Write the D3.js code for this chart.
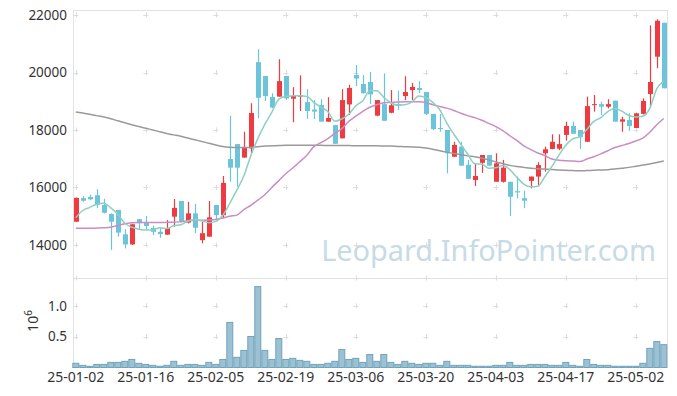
<!DOCTYPE html>
<html><head><meta charset="utf-8">
<script src="https://cdn.jsdelivr.net/npm/d3@7"></script>
<style>body{margin:0;background:#fff}svg{display:block}text{font-family:"Noto Sans","Open Sans",sans-serif}</style>
</head><body><svg id="c" width="677" height="396"></svg>
<script>
const dates=["2025-01-02","2025-01-03","2025-01-06","2025-01-07","2025-01-08","2025-01-09","2025-01-10","2025-01-13","2025-01-14","2025-01-15","2025-01-16","2025-01-17","2025-01-20","2025-01-21","2025-01-22","2025-01-23","2025-01-24","2025-01-31",
"2025-02-03","2025-02-04","2025-02-05","2025-02-06","2025-02-07","2025-02-10","2025-02-11","2025-02-12","2025-02-13","2025-02-14","2025-02-17","2025-02-18","2025-02-19","2025-02-20","2025-02-21","2025-02-24","2025-02-25","2025-02-26","2025-02-27","2025-02-28",
"2025-03-04","2025-03-05","2025-03-06","2025-03-07","2025-03-10","2025-03-11","2025-03-12","2025-03-13","2025-03-14","2025-03-17","2025-03-18","2025-03-19","2025-03-20","2025-03-21","2025-03-24","2025-03-25","2025-03-26","2025-03-27","2025-03-28","2025-03-31",
"2025-04-01","2025-04-02","2025-04-03","2025-04-04","2025-04-07","2025-04-08","2025-04-09","2025-04-10","2025-04-11","2025-04-14","2025-04-15","2025-04-16","2025-04-17","2025-04-18","2025-04-21","2025-04-22","2025-04-23","2025-04-24","2025-04-25","2025-04-28","2025-04-29","2025-04-30",
"2025-05-02","2025-05-07","2025-05-08","2025-05-09","2025-05-12"];
const open=[14810,15630,15670,15730,15390,15080,15220,14370,14020,14900,14780,14590,14460,14360,14985,15530,14780,15100,14170,14290,15390,15040,16990,17510,17040,17360,20360,19880,19150,19160,19880,19090,19160,18970,18710,18870,18290,18170,17710,18890,19910,19600,19670,18500,18900,18600,18900,19180,19390,19460,19320,18560,18070,18000,17070,17420,16790,16260,16860,17130,16200,16200,16200,15870,15630,16230,16380,17190,17340,17350,17830,18140,18000,17590,18870,18900,18810,19020,18290,18350,18070,18560,19250,20550,21730];
const high=[15650,15700,15750,15940,15610,15100,15220,14550,14740,14900,15010,14670,14590,14870,15600,15530,15500,15430,14810,15530,15390,16400,18500,17510,17940,18930,20810,19880,19280,20460,19880,19490,19900,19420,19040,19070,19140,18170,19420,19570,20260,19910,20020,19040,19970,19390,19370,19870,19640,19700,19320,18560,18560,18000,17590,17590,16960,16840,17130,17130,17190,16960,16200,16380,15890,16380,16880,17420,17850,17850,18290,18290,18000,19160,19220,18980,19070,19020,18460,18580,18600,19100,21640,21850,21730];
const low=[14800,15500,15560,15280,15100,13830,14290,13880,14000,14550,14520,14350,14250,14350,14640,14780,14750,14410,14060,14290,14870,14930,16200,16030,17037,17190,18410,19010,18760,19160,19050,18270,18660,18390,18380,18290,18290,17520,17710,18520,19530,19270,18900,18480,18320,18580,18690,19040,19040,19290,18520,18000,17940,16490,17070,16760,16290,16050,16510,16740,16200,16170,15010,15620,15280,15970,16090,16550,17330,17300,17630,17870,17340,17590,18640,18520,18750,18290,17940,17970,18070,18540,18810,20150,19450];
const close=[15640,15540,15590,15390,15120,14810,14430,14020,14720,14760,14660,14460,14380,14590,15290,14810,15100,14600,14410,14960,15040,16160,16690,16690,17410,18590,19120,19180,18780,19700,19100,19180,19210,18660,18640,18290,18420,17520,19040,19460,19790,19280,19240,19040,18320,18860,18850,19320,19500,19390,18560,18030,18045,17190,17480,16760,16300,16400,17130,16760,16840,16690,15680,15830,15540,16380,16780,17330,17590,17510,18140,17870,17750,18830,18900,18810,18900,18290,18370,18140,18580,19010,19670,21800,19450];
const volume=[0.068,0.035,0.02,0.05,0.05,0.083,0.083,0.1,0.13,0.068,0.05,0.035,0.02,0.035,0.1,0.035,0.05,0.05,0.035,0.083,0.05,0.13,0.73,0.165,0.277,0.503,1.31,0.277,0.13,0.47,0.13,0.148,0.116,0.1,0.05,0.05,0.068,0.1,0.29,0.13,0.148,0.083,0.21,0.1,0.21,0.083,0.05,0.1,0.068,0.05,0.068,0.068,0.035,0.1,0.035,0.035,0.035,0.02,0.02,0.02,0.035,0.035,0.083,0.035,0.035,0.05,0.05,0.05,0.035,0.035,0.083,0.035,0.02,0.13,0.05,0.035,0.035,0.02,0.02,0.02,0.02,0.068,0.31,0.42,0.37];
const ma5=[14950,15200,15310,15420,15456,15290,15068,14754,14620,14548,14518,14524,14596,14570,14676,14706,14834,14878,14842,14776,14822,15034,15452,15908,16398,17108,17700,18198,18616,19074,19176,19188,19194,19170,18958,18796,18644,18306,18382,18546,18846,19018,19362,19362,19134,18948,18862,18878,18970,19184,19124,18960,18705,18243,17861,17501,17155,16826,16814,16670,16686,16764,16620,16360,16116,16024,16042,16372,16724,17118,17470,17688,17772,18020,18298,18432,18638,18746,18654,18502,18456,18478,18754,19440,19702];
const ma20=[14580,14580,14580,14590,14600,14620,14680,14740,14770,14780,14780,14780,14780,14790,14790,14810,14840,14860,14860,14870,14890,14940,15000,15040,15230,15380,15560,15750,16000,16240,16480,16680,16900,17120,17420,17560,17700,17880,18050,18300,18480,18650,18790,18880,18950,18960,18970,18980,18985,18985,18960,18880,18820,18760,18680,18580,18500,18430,18340,18230,18120,17980,17800,17640,17450,17320,17200,17110,16990,16950,16930,16920,16900,16990,17070,17170,17280,17390,17460,17530,17620,17720,17920,18180,18400];
const ma60=[18630,18590,18550,18500,18450,18390,18320,18250,18180,18120,18060,18000,17940,17880,17830,17780,17720,17660,17600,17540,17480,17430,17400,17390,17390,17400,17420,17440,17450,17460,17470,17470,17470,17470,17470,17470,17460,17460,17460,17460,17450,17450,17450,17450,17440,17440,17430,17420,17410,17400,17370,17330,17280,17230,17180,17140,17100,17070,17020,16960,16890,16830,16770,16730,16700,16670,16650,16640,16630,16610,16600,16590,16580,16590,16600,16610,16620,16640,16670,16700,16740,16780,16820,16870,16920];
const priceTicks=[14000,16000,18000,20000,22000];
const volTicks=[0.5,1.0];
const labelStep=10;

const svg=d3.select("#c");
const L=73,R=667,T=10,MID=278,B=367.5;
const idx=d3.range(dates.length);
const x=d3.scaleBand().domain(idx).range([72.3,667.3]).padding(0);
const cx=i=>x(i)+x.bandwidth()/2;
const y=d3.scaleLinear().domain([12852,22174]).range([MID,T]);
const yv=d3.scaleLinear().domain([0,1.45]).range([B,MID]);
const grid="#dcdcdc";

// watermark
const wm=svg.append("text").attr("x",656).attr("y",261).attr("text-anchor","end")
 .attr("font-size",30).attr("fill","#c6dbe6").text("Leopard.InfoPointer.com");
const wl=wm.node().getComputedTextLength();
wm.attr("font-size",30*335/wl);

// frame
const fr=svg.append("g").attr("stroke","#e2e2e2").attr("stroke-width",1);
fr.append("line").attr("x1",L).attr("x2",R).attr("y1",T+0.5).attr("y2",T+0.5);
fr.append("line").attr("x1",L).attr("x2",R).attr("y1",MID+0.5).attr("y2",MID+0.5);
fr.append("line").attr("x1",L+0.5).attr("x2",L+0.5).attr("y1",T).attr("y2",B);
fr.append("line").attr("x1",R+0.5).attr("x2",R+0.5).attr("y1",T).attr("y2",B);

// crosses
const tickIdx=idx.filter(i=>i%labelStep===0);
const cr=svg.append("g").attr("stroke",grid).attr("stroke-width",1);
function cross(px,py){
  cr.append("line").attr("x1",px-2.5).attr("x2",px+2.5).attr("y1",Math.round(py)+0.5).attr("y2",Math.round(py)+0.5);
  cr.append("line").attr("x1",Math.round(px)+0.5).attr("x2",Math.round(px)+0.5).attr("y1",py-2.5).attr("y2",py+2.5);
}
tickIdx.forEach(i=>{
  priceTicks.forEach(v=>cross(cx(i),y(v)));
  volTicks.forEach(v=>cross(cx(i),yv(v)));
  cross(cx(i),MID);
});

// y axis labels
const ax=svg.append("g").attr("fill","#333").attr("font-size",13.5).attr("text-anchor","end");
priceTicks.forEach(v=>ax.append("text").attr("x",67).attr("y",y(v)).attr("dy","0.36em").text(v));
volTicks.forEach(v=>ax.append("text").attr("x",67).attr("y",yv(v)).attr("dy","0.36em").text(d3.format(".1f")(v)));

// x labels
const xl=svg.append("g").attr("fill","#333").attr("font-size",14).attr("text-anchor","middle");
tickIdx.forEach(i=>xl.append("text").attr("x",cx(i)).attr("y",382).text(dates[i].slice(2)));

// 10^6 label
const ul=svg.append("text").attr("transform","translate(38,321) rotate(-90)").attr("text-anchor","middle")
 .attr("font-size",14).attr("fill","#333");
ul.append("tspan").text("10");
ul.append("tspan").attr("font-size",10).attr("dy",-6).text("6");

// volume bars
svg.append("g").selectAll("rect").data(idx).join("rect")
 .attr("x",i=>x(i)+0.5).attr("width",x.bandwidth()-1)
 .attr("y",i=>yv(volume[i])).attr("height",i=>B-yv(volume[i]))
 .attr("fill","#9cc1d2").attr("stroke","#6fa3bb").attr("stroke-width",1);

// candles
const up="#ee3a40", dn="#6cc4da";
const cg=svg.append("g");
idx.forEach(i=>{
  const isUp=close[i]>=open[i];
  const col=isUp?up:dn;
  cg.append("line").attr("x1",Math.round(cx(i))+0.5).attr("x2",Math.round(cx(i))+0.5)
    .attr("y1",y(high[i])).attr("y2",y(low[i])).attr("stroke",col).attr("stroke-width",1.2);
  const top=y(Math.max(open[i],close[i])), bot=y(Math.min(open[i],close[i]));
  cg.append("rect").attr("x",Math.round(cx(i))-2).attr("width",5)
    .attr("y",top).attr("height",Math.max(1,bot-top)).attr("fill",col);
});

// moving averages
const line=arr=>d3.line().x((d,i)=>cx(i)).y(d=>y(d)).curve(d3.curveMonotoneX)(arr);
svg.append("path").attr("d",line(ma60)).attr("fill","none").attr("stroke","#9a9a9a").attr("stroke-width",1.5);
svg.append("path").attr("d",line(ma20)).attr("fill","none").attr("stroke","#c98dc4").attr("stroke-width",1.5);
svg.append("path").attr("d",line(ma5)).attr("fill","none").attr("stroke","#8dcfc2").attr("stroke-width",1.5);
</script></body></html>
